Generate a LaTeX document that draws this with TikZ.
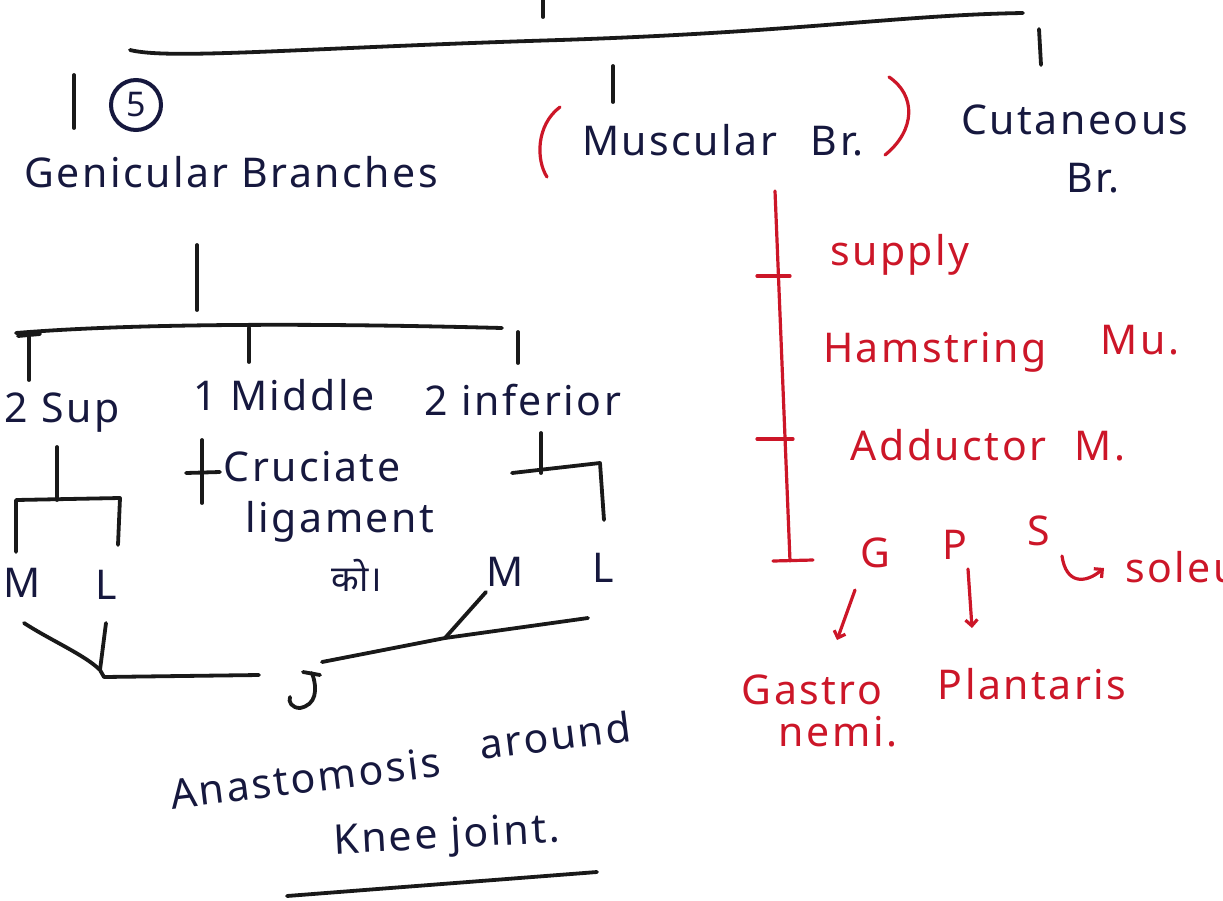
\documentclass[tikz,border=0pt]{standalone}
\usepackage{fontspec}
\setmainfont{Noto Sans}
\newfontfamily\devfont[Script=Devanagari]{Noto Sans}
\usetikzlibrary{arrows.meta}
\definecolor{ink}{RGB}{22,24,62}
\definecolor{redink}{RGB}{204,22,40}
\begin{document}
\begin{tikzpicture}[x=1pt,y=-1pt]
% page size
\useasboundingbox (0,0) rectangle (1223,900);
% size of the writing
\def\hand{\fontsize{41}{45}\selectfont\addfontfeature{LetterSpace=6}}
% pen and word styles
\tikzstyle{pen} = [line width=3.8pt, black!90, line cap=round, line join=round];
\tikzstyle{redpen} = [line width=3.2pt, redink, line cap=round, line join=round];
\tikzstyle{word} = [ink, inner sep=0pt, font=\hand];
\tikzstyle{redword} = [redink, inner sep=0pt, font=\hand];
% top bracket
\coordinate (stem) at (543,0);
\coordinate (stemend) at (543,17);
\coordinate (barL) at (130,50);
\coordinate (barR) at (1023,13);
\draw[pen] (stem) -- (stemend);
\draw[pen] (barL) .. controls (170,60) and (300,48) .. (560,40)
  .. controls (800,32) and (900,15) .. (barR);
\coordinate (t1) at (74,75);  \coordinate (t1e) at (74,128);
\coordinate (t2) at (613,66); \coordinate (t2e) at (613,102);
\coordinate (t3) at (1039,29); \coordinate (t3e) at (1041,65);
\foreach \a/\b in {t1/t1e, t2/t2e, t3/t3e}
  \draw[pen] (\a) -- (\b);
% first level
\node[draw, circle, ink, line width=4pt, inner sep=0pt, minimum size=50pt,
  font=\fontsize{34}{34}\selectfont\bfseries] (five) at (136,105) {5};
\node[word] (gen) at (231,172) {Genicular Branches};
\node[word] (mus) at (723,140) {Muscular\hspace{34pt}Br.};
\draw[redpen] (560,107) .. controls (536,125) and (536,160) .. (547,177);
\draw[redpen] (889,77) .. controls (916,95) and (916,130) .. (885,155);
\node[word] (cut) at (1075,120) {Cutaneous};
\node[word] (cutbr) at (1093,178) {Br.};
% genicular tree
\coordinate (g0) at (197,245);
\coordinate (g1) at (197,310);
\draw[pen] (g0) -- (g1);
\coordinate (gL) at (16,333);
\coordinate (gR) at (502,328);
\draw[pen] (gL) .. controls (150,322) and (350,324) .. (gR);
\draw[pen] (29,333) -- (29,380);
\draw[pen] (18,336) -- (40,334);
\draw[pen] (249,328) -- (249,362);
\draw[pen] (518,332) -- (518,363);
\node[word] (sup) at (62,413) {2 Sup};
\node[word] (mid) at (284,395) {1 Middle};
\node[word] (inf) at (523,400) {2 inferior};
% superior pair
\coordinate (s0) at (57,447);
\coordinate (s1) at (57,500);
\draw[pen] (s0) -- (s1);
\draw[pen] (16,552) -- (16,500) -- (120,498) -- (118,545);
\node[word] (supM) at (22,583) {M};
\node[word] (supL) at (106,585) {L};
% middle branch
\draw[pen] (202,440) -- (202,503);
\draw[pen] (186,473) -- (220,472);
\node[word] (cru) at (312,467) {Cruciate};
\node[word] (lig) at (340,522) {ligament};
\node[ink, inner sep=0pt, font=\devfont\fontsize{36}{40}\selectfont] (ko) at (357,575) {को।};
% inferior pair
\coordinate (i0) at (541,433);
\coordinate (i1) at (541,473);
\draw[pen] (i0) -- (i1);
\draw[pen] (512,473) -- (600,463) -- (604,520);
\node[word] (infM) at (505,572) {M};
\node[word] (infL) at (603,568) {L};
% anastomosis lines
\coordinate (aL) at (24,623);
\coordinate (aJ) at (100,670);
\coordinate (aE) at (259,675);
\draw[pen] (aL) .. controls (50,640) and (85,655) .. (aJ) -- (104,677) -- (aE);
\draw[pen] (106,623) -- (aJ);
\coordinate (bL) at (322,662);
\coordinate (bR) at (588,618);
\coordinate (bJ) at (445,638);
\draw[pen] (bL) -- (bJ) -- (bR);
\draw[pen] (bJ) -- (486,592);
\draw[pen] (303,672) -- (320,675);
\draw[pen] (312,673) .. controls (318,690) and (316,705) .. (300,708)
  .. controls (292,708) and (288,702) .. (290,697);
\node[word, rotate=7] (ana) at (305,778) {Anastomosis};
\node[word, rotate=7] (around) at (555,735) {around};
\node[word, rotate=3] (knee) at (447,838) {Knee joint.};
\draw[pen] (287,896) -- (597,872);
% muscular branches
\coordinate (m0) at (775,191);
\coordinate (m1) at (790,561);
\draw[redpen] (m0) -- (m1);
\draw[redpen] (757,276) -- (790,276);
\draw[redpen] (757,439) -- (793,439);
\draw[redpen] (773,561) -- (813,560);
\node[redword] (supply) at (900,255) {supply};
\node[redword] (ham) at (935,352) {Hamstring};
\node[redword] (mu) at (1140,340) {Mu.};
\node[redword] (add) at (988,445) {Adductor\hspace{28pt}M.};
\node[redword] (G) at (875,553) {G};
\node[redword] (P) at (955,545) {P};
\node[redword] (S) at (1039,531) {S};
\node[redword, anchor=west] (sol) at (1125,567) {soleus};
\draw[redpen, -{Straight Barb[length=6pt]}] (1062,556) .. controls (1066,584) and (1085,584) .. (1104,568);
\draw[redpen, -{Straight Barb[length=6pt]}] (855,590) -- (837,640);
\draw[redpen, -{Straight Barb[length=6pt]}] (968,569) -- (972,628);
\node[redword] (gas) at (812,690) {Gastro};
\node[redword] (nemi) at (838,732) {nemi.};
\node[redword] (plant) at (1032,684) {Plantaris};
\end{tikzpicture}
\end{document}
